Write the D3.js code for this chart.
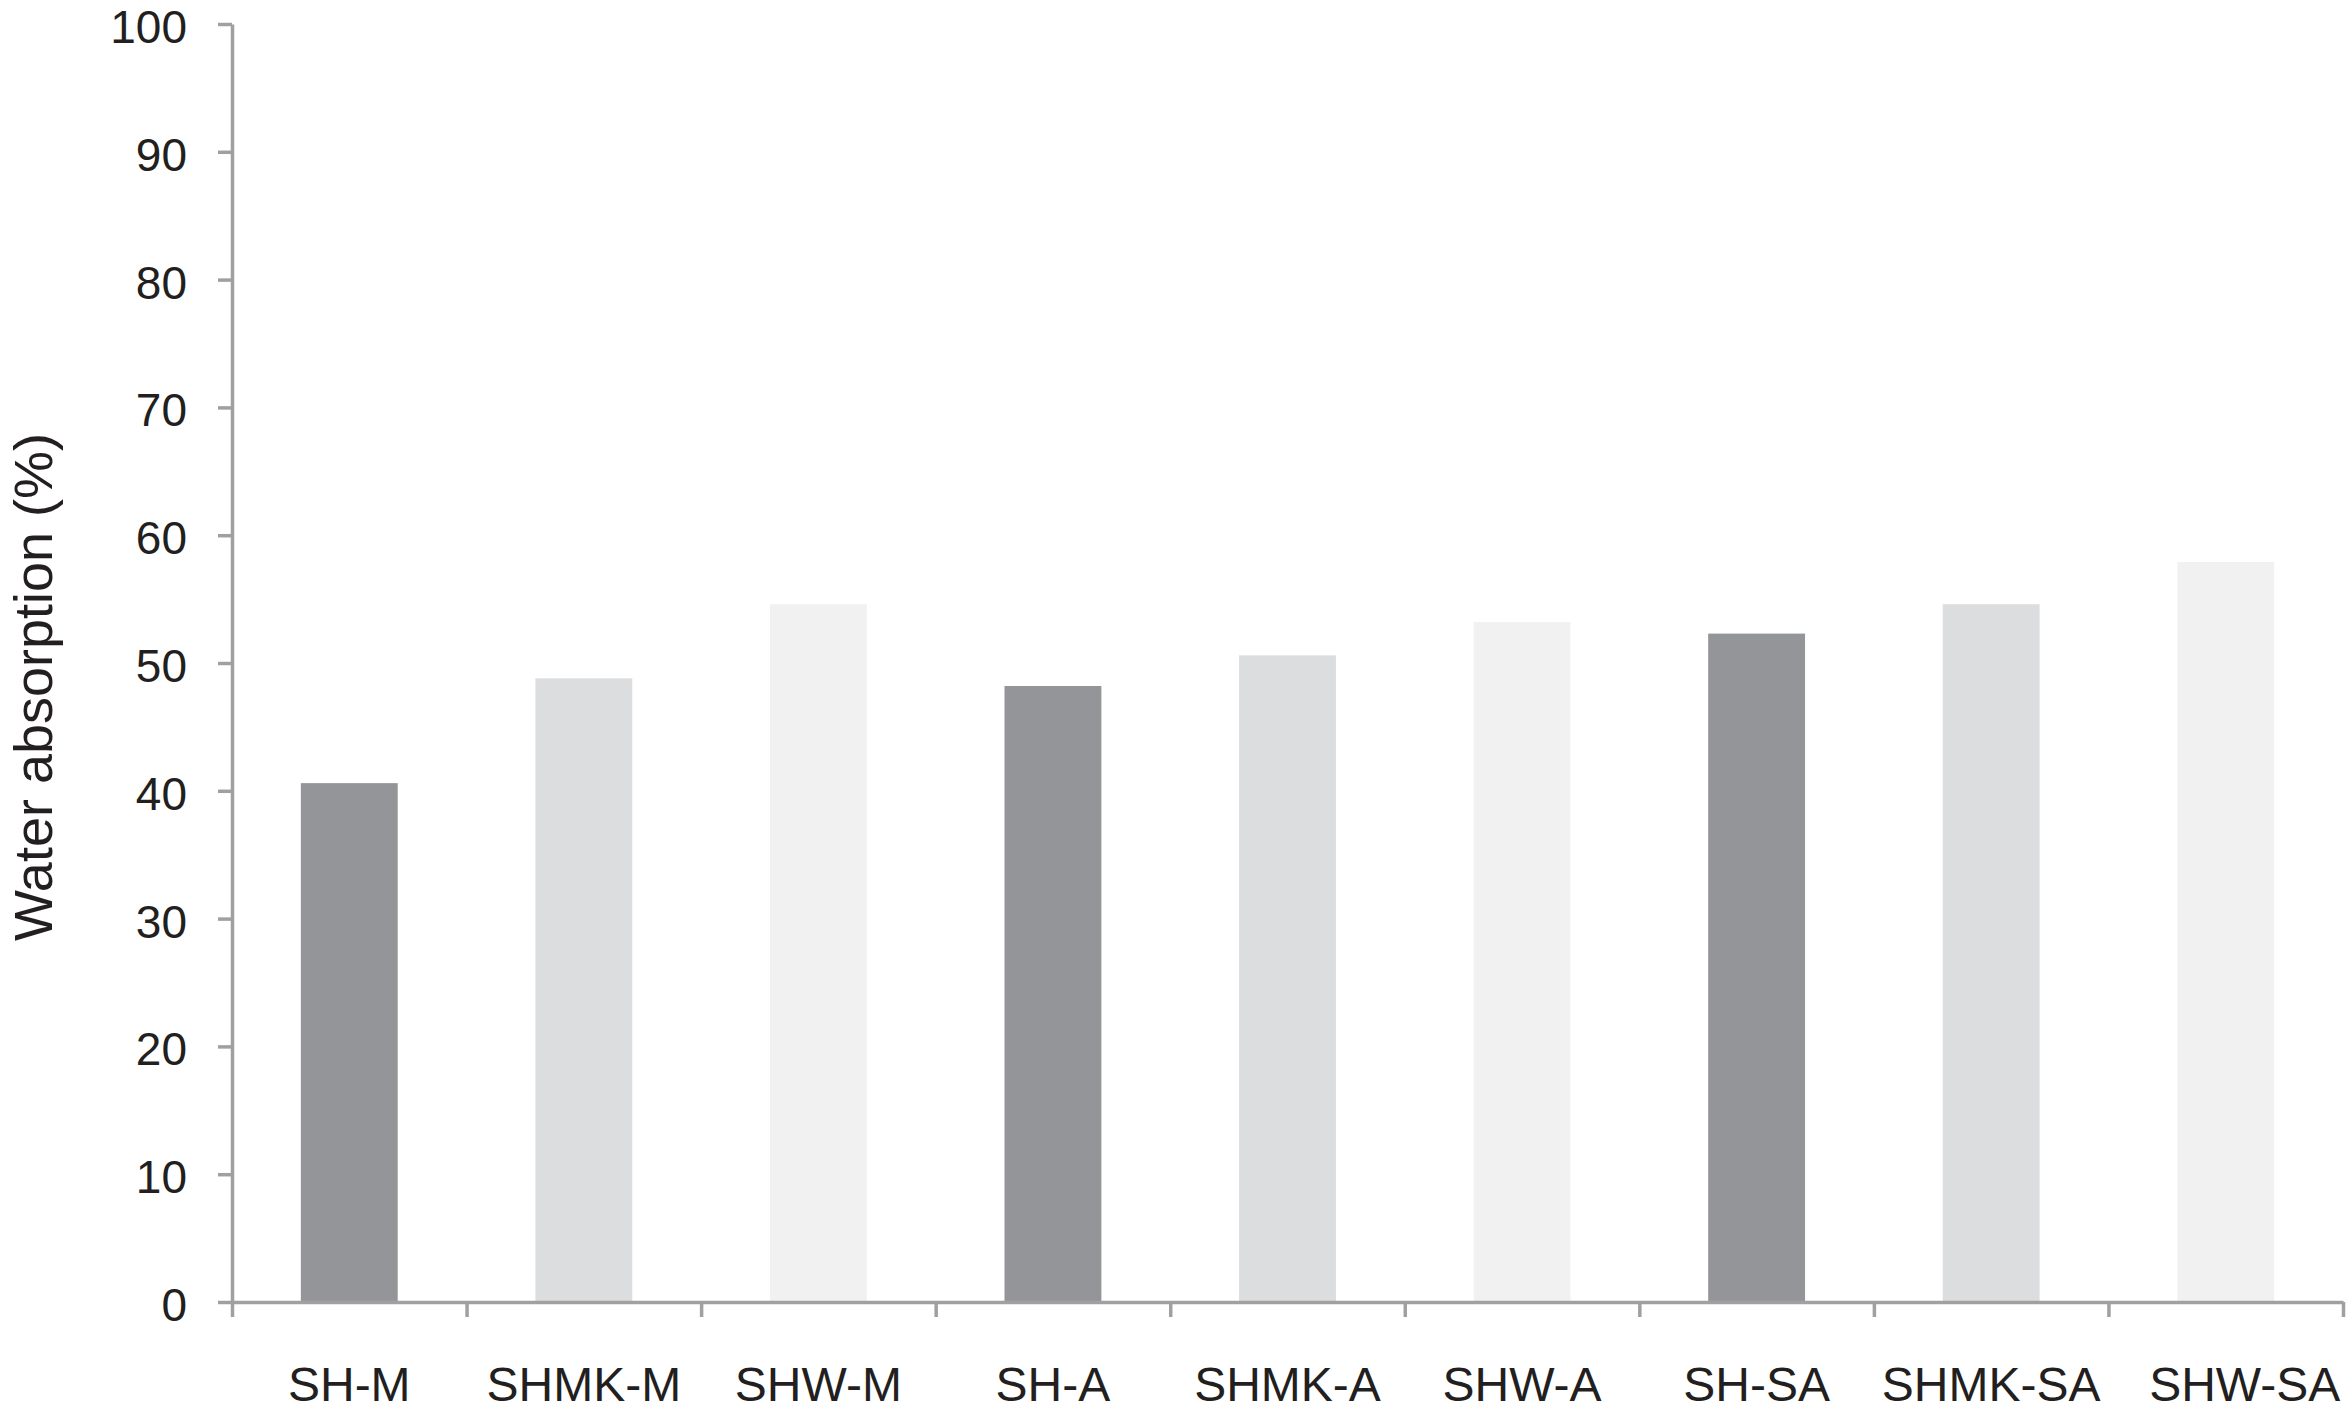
<!DOCTYPE html>
<html>
<head>
<meta charset="utf-8">
<script src="https://cdn.jsdelivr.net/npm/d3@7"></script>
<style>
  html, body { margin: 0; padding: 0; background: #ffffff; }
  svg { display: block; }
  text { font-family: "Liberation Sans", Arial, Helvetica, sans-serif; fill: #231f20; }
</style>
</head>
<body>
<svg id="chart" width="2346" height="1416"></svg>
<script>
// ---- data ----
const categories = ["SH-M", "SHMK-M", "SHW-M", "SH-A", "SHMK-A", "SHW-A", "SH-SA", "SHMK-SA", "SHW-SA"];
const values = [40.6, 48.8, 54.6, 48.2, 50.6, 53.2, 52.3, 54.6, 57.9];
const barGroups = ["SH", "SHMK", "SHW", "SH", "SHMK", "SHW", "SH", "SHMK", "SHW"];
const yTicks = [0, 10, 20, 30, 40, 50, 60, 70, 80, 90, 100];
const yTitle = "Water absorption (%)";

// ---- layout ----
const W = 2346, H = 1416;
const x0 = 232, x1 = 2343, yTop = 24, yBottom = 1302;
const axisColor = "#a0a0a0";
const colors = { SH: "#939598", SHMK: "#dcdddf", SHW: "#f0f1f0" };

const svg = d3.select("#chart");

const x = d3.scaleBand()
  .domain(categories)
  .range([x0, x1])
  .paddingInner(0.587)
  .paddingOuter(0.2935);

const xIdx = d3.scaleLinear().domain([0, categories.length]).range([x0, x1]);

const y = d3.scaleLinear().domain([0, 100]).range([yBottom, yTop]);

// bars
svg.append("g")
  .selectAll("rect")
  .data(categories)
  .join("rect")
  .attr("x", d => x(d))
  .attr("width", x.bandwidth())
  .attr("y", (d, i) => y(values[i]))
  .attr("height", (d, i) => y(0) - y(values[i]))
  .attr("fill", (d, i) => colors[barGroups[i]]);

// y axis
const yAxis = svg.append("g")
  .attr("transform", `translate(${x0},0)`)
  .call(d3.axisLeft(y).tickValues(yTicks).tickSize(14).tickSizeOuter(0).tickPadding(31).tickFormat(d3.format("d")));
yAxis.select(".domain").attr("stroke", axisColor).attr("stroke-width", 3.5);
yAxis.selectAll(".tick line").attr("stroke", axisColor).attr("stroke-width", 3.5);
yAxis.selectAll(".tick text").attr("font-size", 46).attr("fill", "#231f20").attr("dy", "0.4em")
  .style("font-family", '"Liberation Sans", Arial, sans-serif');

// x axis boundary ticks
const xTickAxis = svg.append("g")
  .attr("transform", `translate(0,${yBottom})`)
  .call(d3.axisBottom(xIdx).tickValues(d3.range(categories.length + 1)).tickSize(15).tickSizeOuter(0).tickFormat(""));
xTickAxis.select(".domain").attr("stroke", axisColor).attr("stroke-width", 3.5);
xTickAxis.selectAll(".tick line").attr("stroke", axisColor).attr("stroke-width", 3.5);

// x axis labels
const xLabelAxis = svg.append("g")
  .attr("transform", `translate(0,${yBottom})`)
  .call(d3.axisBottom(x).tickSize(0).tickPadding(65));
xLabelAxis.select(".domain").remove();
xLabelAxis.selectAll(".tick text").attr("font-size", 48).attr("fill", "#231f20")
  .style("font-family", '"Liberation Sans", Arial, sans-serif')
  .attr("dx", (d, i) => i === categories.length - 1 ? 19 : 0);

// y title
svg.append("text")
  .attr("transform", `translate(52,687) rotate(-90)`)
  .attr("text-anchor", "middle")
  .attr("font-size", 54)
  .text(yTitle);
</script>
</body>
</html>
